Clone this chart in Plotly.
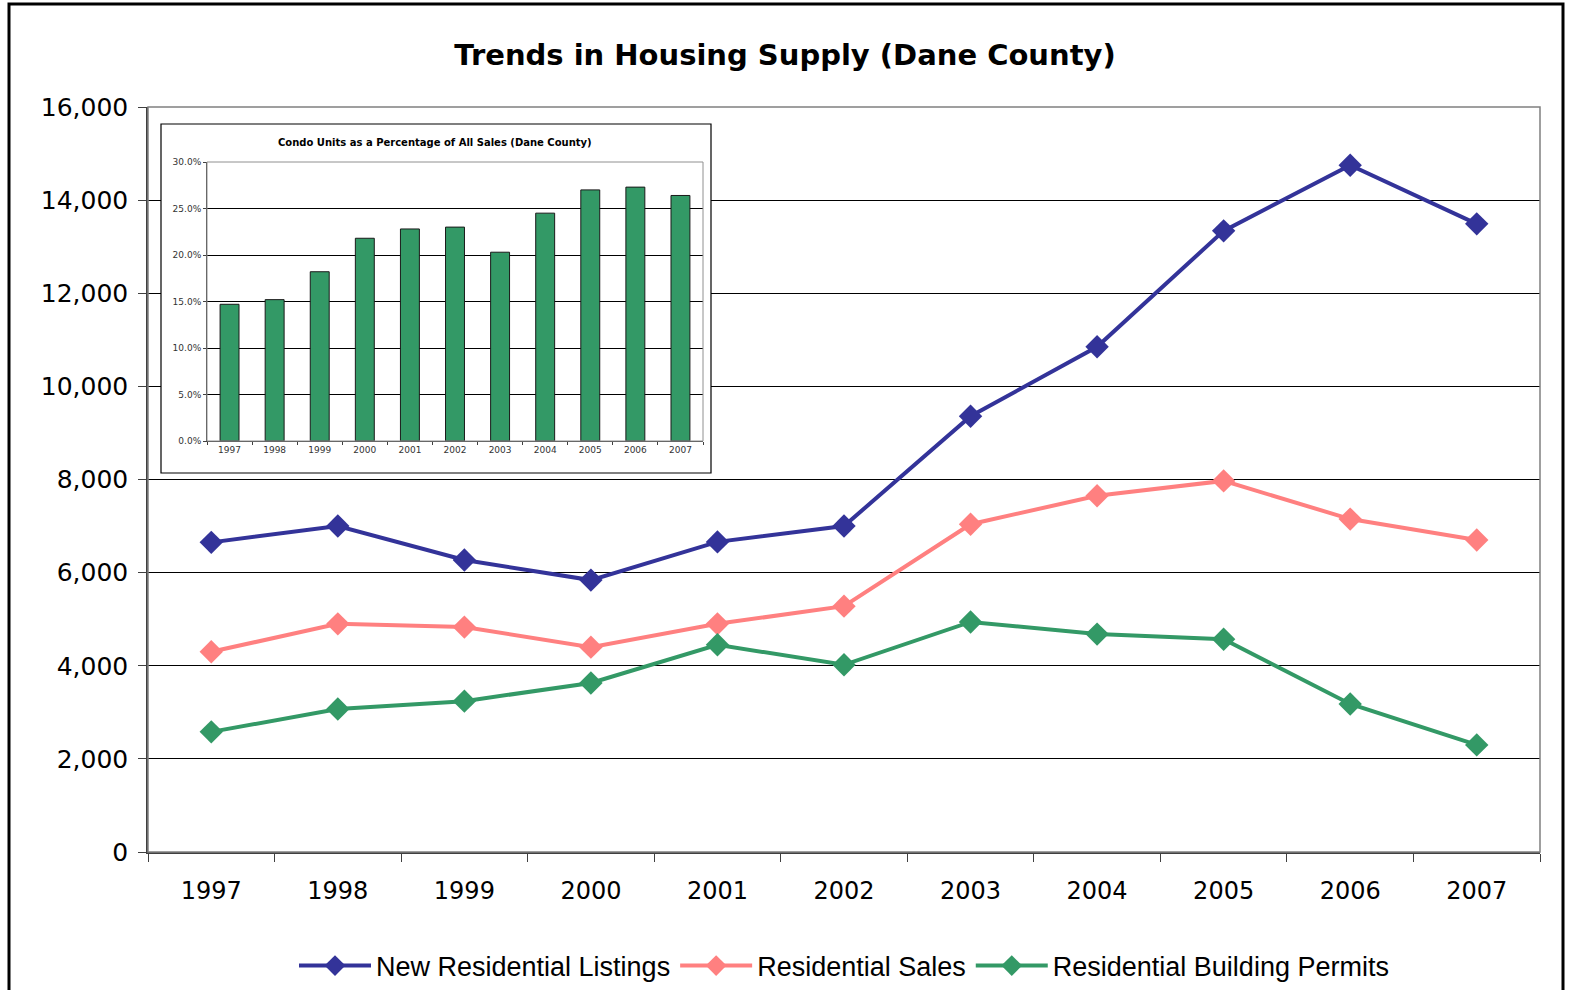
import plotly.graph_objects as go

years = ["1997", "1998", "1999", "2000", "2001", "2002", "2003", "2004", "2005", "2006", "2007"]
listings = [6650, 7000, 6270, 5840, 6660, 7000, 9360, 10850, 13340, 14750, 13490]
sales = [4300, 4900, 4830, 4400, 4900, 5280, 7040, 7650, 7970, 7150, 6700]
permits = [2580, 3070, 3240, 3630, 4450, 4020, 4940, 4680, 4570, 3180, 2300]
condo_pct = [0.147, 0.152, 0.182, 0.218, 0.228, 0.230, 0.203, 0.245, 0.270, 0.273, 0.264]

BLUE = "#333399"
PINK = "#FF8080"
GREEN = "#339966"
FONT = "DejaVu Sans"

fig = go.Figure()

for name, vals, col in [("New Residential Listings", listings, BLUE),
                        ("Residential Sales", sales, PINK),
                        ("Residential Building Permits", permits, GREEN)]:
    fig.add_trace(go.Scatter(
        x=years, y=vals, name=name, mode="lines+markers",
        line=dict(color=col, width=4),
        marker=dict(symbol="diamond", size=18, color=col),
        xaxis="x", yaxis="y"))

fig.add_trace(go.Bar(
    x=years, y=condo_pct, xaxis="x2", yaxis="y2", showlegend=False,
    marker=dict(color=GREEN, line=dict(color="#1a1a1a", width=1)),
    width=0.42))

fig.update_layout(
    width=1570, height=990,
    margin=dict(l=148, r=30, t=107, b=138, autoexpand=False),
    paper_bgcolor="white", plot_bgcolor="white",
    title=dict(text="<b>Trends in Housing Supply (Dane County)</b>",
               x=0.5, xref="container", xanchor="center", y=1 - 55 / 990, yanchor="middle",
               font=dict(family=FONT, size=29, color="black")),
    xaxis=dict(type="category", range=[-0.5, 10.5], tickson="boundaries",
               ticks="outside", ticklen=8, tickcolor="#404040", automargin=False,
               showline=True, linecolor="#404040", linewidth=1.5,
               showgrid=False, tickfont=dict(family=FONT, size=24, color="black"),
               ticklabelstandoff=16),
    yaxis=dict(range=[0, 16000], dtick=2000, tickformat=",d", automargin=False,
               ticks="outside", ticklen=8, tickcolor="#404040",
               showline=True, linecolor="#404040", linewidth=1.5,
               showgrid=True, gridcolor="black", gridwidth=1, zeroline=False,
               tickfont=dict(family=FONT, size=25, color="black"),
               ticklabelstandoff=5),
    xaxis2=dict(type="category", domain=[(207 - 148) / 1392, (703 - 148) / 1392],
                anchor="y2", range=[-0.5, 10.5], tickson="boundaries", automargin=False,
                ticks="outside", ticklen=3, tickcolor="#404040",
                showline=True, linecolor="#404040", linewidth=1,
                showgrid=False, tickfont=dict(family=FONT, size=9, color="#333333")),
    yaxis2=dict(domain=[(852 - 441) / 745, (852 - 162) / 745], anchor="x2",
                range=[0, 0.30], dtick=0.05, tickformat=".1%", automargin=False,
                ticks="outside", ticklen=3, tickcolor="#404040",
                showline=True, linecolor="#404040", linewidth=1,
                showgrid=True, gridcolor="black", gridwidth=1, zeroline=False,
                tickfont=dict(family=FONT, size=9, color="#333333")),
    legend=dict(orientation="h", x=0.5, xanchor="center", y=(852 - 966) / 745,
                yanchor="middle", font=dict(family="Liberation Sans", size=27, color="black"),
                itemwidth=72, tracegroupgap=0, bgcolor="rgba(0,0,0,0)"),
)

# inset white box (above main gridlines, below main traces)
px_to_x = lambda px: (px - 148) / (1392 / 11) - 0.5
px_to_y = lambda py: (852 - py) / 745 * 16000
fig.add_shape(type="rect", xref="x", yref="y", layer="between",
              x0=px_to_x(161), x1=px_to_x(711), y0=px_to_y(473), y1=px_to_y(124),
              fillcolor="white", line=dict(color="black", width=1.2))

# inset plot top/right border
fig.add_shape(type="rect", xref="x2 domain", yref="y2 domain", layer="above",
              x0=0, x1=1, y0=0, y1=1, line=dict(color="#909090", width=1))

# main plot border top/right
fig.add_shape(type="rect", xref="paper", yref="paper", layer="above",
              x0=0, x1=1, y0=0, y1=1, line=dict(color="#808080", width=1.5))

# outer chart border
fig.add_shape(type="rect", xref="paper", yref="paper", layer="above",
              x0=(9 - 148) / 1392, x1=(1563 - 148) / 1392,
              y0=(852 - 1000) / 745, y1=(852 - 4) / 745,
              line=dict(color="black", width=3))

fig.add_annotation(text="<b>Condo Units as a Percentage of All Sales (Dane County)</b>",
                   xref="paper", yref="paper", showarrow=False,
                   x=(435 - 148) / 1392, y=(852 - 142) / 745,
                   xanchor="center", yanchor="middle",
                   font=dict(family=FONT, size=10, color="black"))

fig.write_html("out.html", config={"displayModeBar": False},
               post_script="document.body.style.margin='0';")
